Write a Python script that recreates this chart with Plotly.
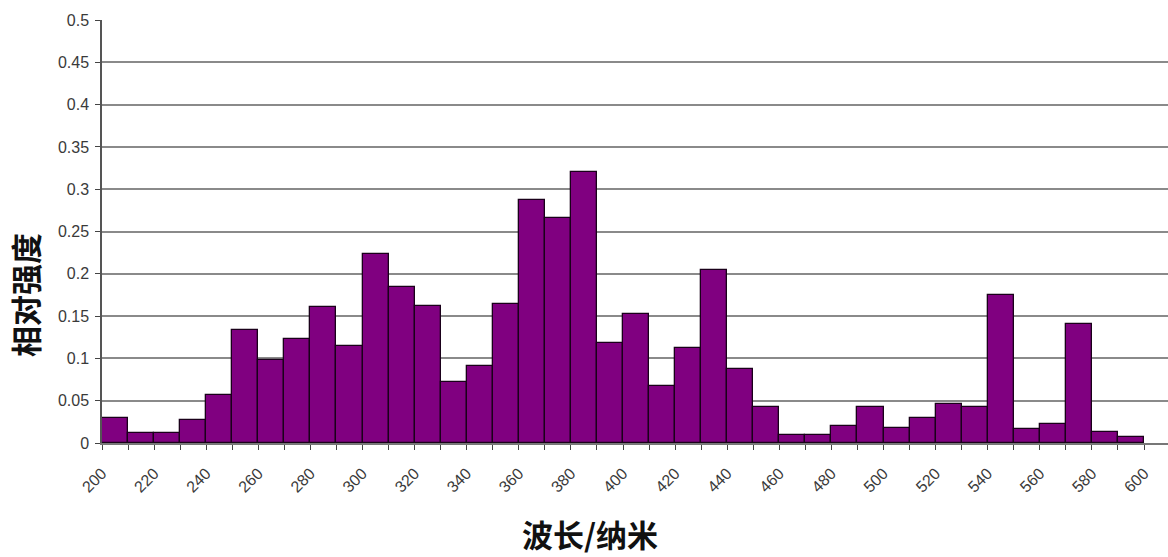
import plotly.graph_objects as go

# Wavelength bins (start of each 10 nm bin) and relative intensity
wavelength_nm = [200, 210, 220, 230, 240, 250, 260, 270, 280, 290,
                 300, 310, 320, 330, 340, 350, 360, 370, 380, 390,
                 400, 410, 420, 430, 440, 450, 460, 470, 480, 490,
                 500, 510, 520, 530, 540, 550, 560, 570, 580, 590]
relative_intensity = [0.030, 0.012, 0.012, 0.027, 0.057, 0.133, 0.098, 0.123, 0.161, 0.115,
                      0.224, 0.184, 0.162, 0.072, 0.091, 0.164, 0.287, 0.266, 0.320, 0.118,
                      0.153, 0.067, 0.112, 0.205, 0.088, 0.043, 0.010, 0.010, 0.020, 0.042,
                      0.018, 0.030, 0.046, 0.043, 0.175, 0.016, 0.023, 0.141, 0.013, 0.007]
tick_values = list(range(200, 601, 20))
tick_labels = [str(v) for v in tick_values]

x_title = "波长/纳米"
y_title = "相对强度"

fig = go.Figure(
    go.Bar(
        x=wavelength_nm,
        y=relative_intensity,
        offset=0,
        width=10,
        marker=dict(color="#800080", line=dict(color="#1a001a", width=1.3)),
        hoverinfo="x+y",
    )
)

tick_font = dict(family="Liberation Sans, Arial, sans-serif", size=16, color="#3a3a3a")
title_font = dict(family="Noto Sans CJK SC, sans-serif", size=31, color="#111111")

fig.update_layout(
    width=1168,
    height=557,
    autosize=False,
    margin=dict(l=102, r=0, t=20, b=114),
    paper_bgcolor="white",
    plot_bgcolor="white",
    showlegend=False,
    bargap=0,
    xaxis=dict(
        range=[200, 609.2],
        tickmode="array",
        tickvals=tick_values,
        ticktext=tick_labels,
        tickangle=-45,
        ticks="outside",
        ticklen=5,
        tickcolor="#444444",
        tickfont=tick_font,
        ticklabelstandoff=8,
        minor=dict(ticks="outside", dtick=10, tick0=200, ticklen=5, tickcolor="#444444"),
        showgrid=False,
        showline=True,
        linecolor="#777777",
        linewidth=1.5,
        zeroline=False,
        fixedrange=True,
    ),
    yaxis=dict(
        range=[0, 0.5],
        dtick=0.05,
        tick0=0,
        ticks="outside",
        ticklen=5,
        tickcolor="#444444",
        tickfont=tick_font,
        ticklabelstandoff=3,
        showgrid=True,
        gridcolor="#8a8a8a",
        gridwidth=1.5,
        showline=True,
        linecolor="#555555",
        linewidth=1.5,
        zeroline=False,
        fixedrange=True,
    ),
    annotations=[
        dict(
            text="<b>%s</b>" % x_title,
            xref="paper", yref="paper",
            x=0.458, y=-0.2128,
            xanchor="center", yanchor="middle",
            showarrow=False,
            font=title_font,
        ),
        dict(
            text="<b>%s</b>" % y_title,
            xref="paper", yref="paper",
            x=-0.0722, y=0.35,
            xanchor="center", yanchor="middle",
            textangle=-90,
            showarrow=False,
            font=title_font,
        ),
    ],
)

fig.write_html("out.html")
